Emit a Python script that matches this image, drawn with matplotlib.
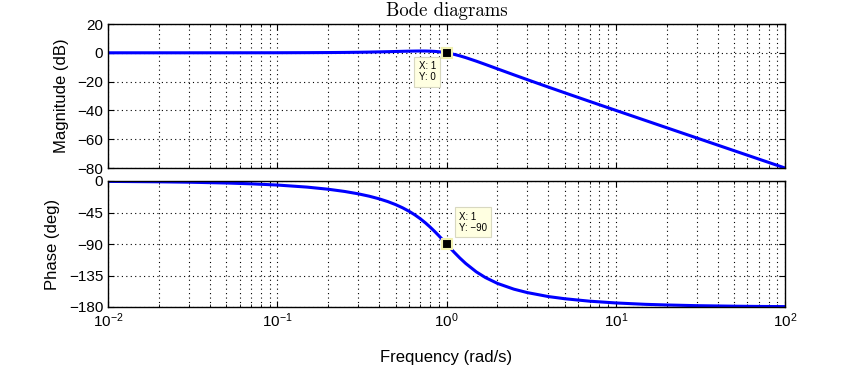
import numpy as np
import matplotlib
matplotlib.use("Agg")
import matplotlib.pyplot as plt
from matplotlib.ticker import LogLocator, NullFormatter

# values
freq = [0.01, 0.02, 0.03, 0.05, 0.07, 0.1, 0.15, 0.2, 0.25, 0.3, 0.35, 0.4, 0.45,
        0.5, 0.55, 0.6, 0.65, 0.7, 0.75, 0.8, 0.85, 0.9, 0.95, 1.0, 1.1, 1.2,
        1.3, 1.5, 1.7, 2, 2.5, 3, 4, 5, 7, 10, 15, 20, 30, 50, 70, 100]
mag_db = [0.0, 0.0, 0.0, 0.01, 0.02, 0.04, 0.10, 0.17, 0.26, 0.37, 0.49, 0.63, 0.77,
          0.90, 1.03, 1.14, 1.21, 1.25, 1.23, 1.14, 0.97, 0.73, 0.40, 0.0, -0.98, -2.13,
          -3.36, -5.81, -8.10, -11.14, -15.29, -18.63, -23.82, -27.79, -33.72, -39.96,
          -47.02, -52.03, -59.08, -67.96, -73.8, -80.0]
phase_deg = [-0.57, -1.15, -1.72, -2.87, -4.02, -5.77, -8.72, -11.77, -14.93, -18.25,
             -21.75, -25.46, -29.43, -33.69, -38.26, -43.15, -48.37, -53.9, -59.74,
             -65.77, -71.92, -78.08, -84.14, -90.0, -100.8, -110.1, -117.9, -129.8,
             -138.0, -146.3, -154.5, -159.4, -165.1, -168.2, -171.7, -174.2, -176.2,
             -177.1, -178.1, -178.85, -179.2, -179.43]
mag_ticks = [20, 0, -20, -40, -60, -80]
phase_ticks = [0, -45, -90, -135, -180]

plt.rcParams["font.family"] = ["Liberation Sans", "DejaVu Sans"]
plt.rcParams["axes.unicode_minus"] = True

fig = plt.figure(figsize=(8.5, 3.87), dpi=100)
ax1 = fig.add_axes([108 / 850, 1 - 168 / 387, 677 / 850, 144 / 387])
ax2 = fig.add_axes([108 / 850, 1 - 307 / 387, 677 / 850, 126 / 387])


def style(ax):
    ax.set_xscale("log")
    ax.set_xlim(0.01, 100)
    ax.xaxis.set_minor_locator(LogLocator(base=10, subs=np.arange(2, 10)))
    ax.xaxis.set_minor_formatter(NullFormatter())
    ax.grid(True, which="major", color="black", linestyle=(0, (1, 3)), linewidth=0.8)
    ax.grid(True, which="minor", axis="x", color="black", linestyle=(0, (1, 3)), linewidth=0.8)
    ax.tick_params(which="both", direction="in", top=True, right=True, labelsize=11)
    ax.tick_params(which="major", length=4)
    ax.tick_params(which="minor", length=2)
    for s in ax.spines.values():
        s.set_linewidth(1.0)


style(ax1)
style(ax2)

ax1.plot(freq, mag_db, color="#0000ff", linewidth=2.2)
ax1.set_ylim(-80, 20)
ax1.set_yticks(mag_ticks)
ax1.set_xticklabels([])
ax1.set_ylabel("Magnitude (dB)", fontsize=12, labelpad=6)
ax1.set_title("Bode diagrams", family="cmr10", fontsize=13.5, pad=6)

ax2.plot(freq, phase_deg, color="#0000ff", linewidth=2.2)
ax2.set_ylim(-180, 0)
ax2.set_yticks(phase_ticks)
ax2.set_ylabel("Phase (deg)", fontsize=12, labelpad=6)
ax2.set_xlabel("Frequency (rad/s)", fontsize=12, labelpad=14)

# data tips
tip_box = dict(boxstyle="square,pad=0.45", facecolor="#ffffe1", edgecolor="#d8d8c0", linewidth=0.8)
for ax, y, txt, off, va in [(ax1, 0, "X: 1\nY: 0", (-20, -6), "top"),
                            (ax2, -90, "X: 1\nY: \u221290", (9, 8), "bottom")]:
    ax.plot([1], [y], marker="s", markersize=6.5, color="black",
            markeredgecolor="#f0f0b0", markeredgewidth=1.5, zorder=5)
    ax.annotate(txt, (1, y), xytext=off, textcoords="offset points",
                fontsize=7, linespacing=1.15, bbox=tip_box, va=va,
                ha="left", zorder=6)

fig.savefig("out.png", dpi=100)
